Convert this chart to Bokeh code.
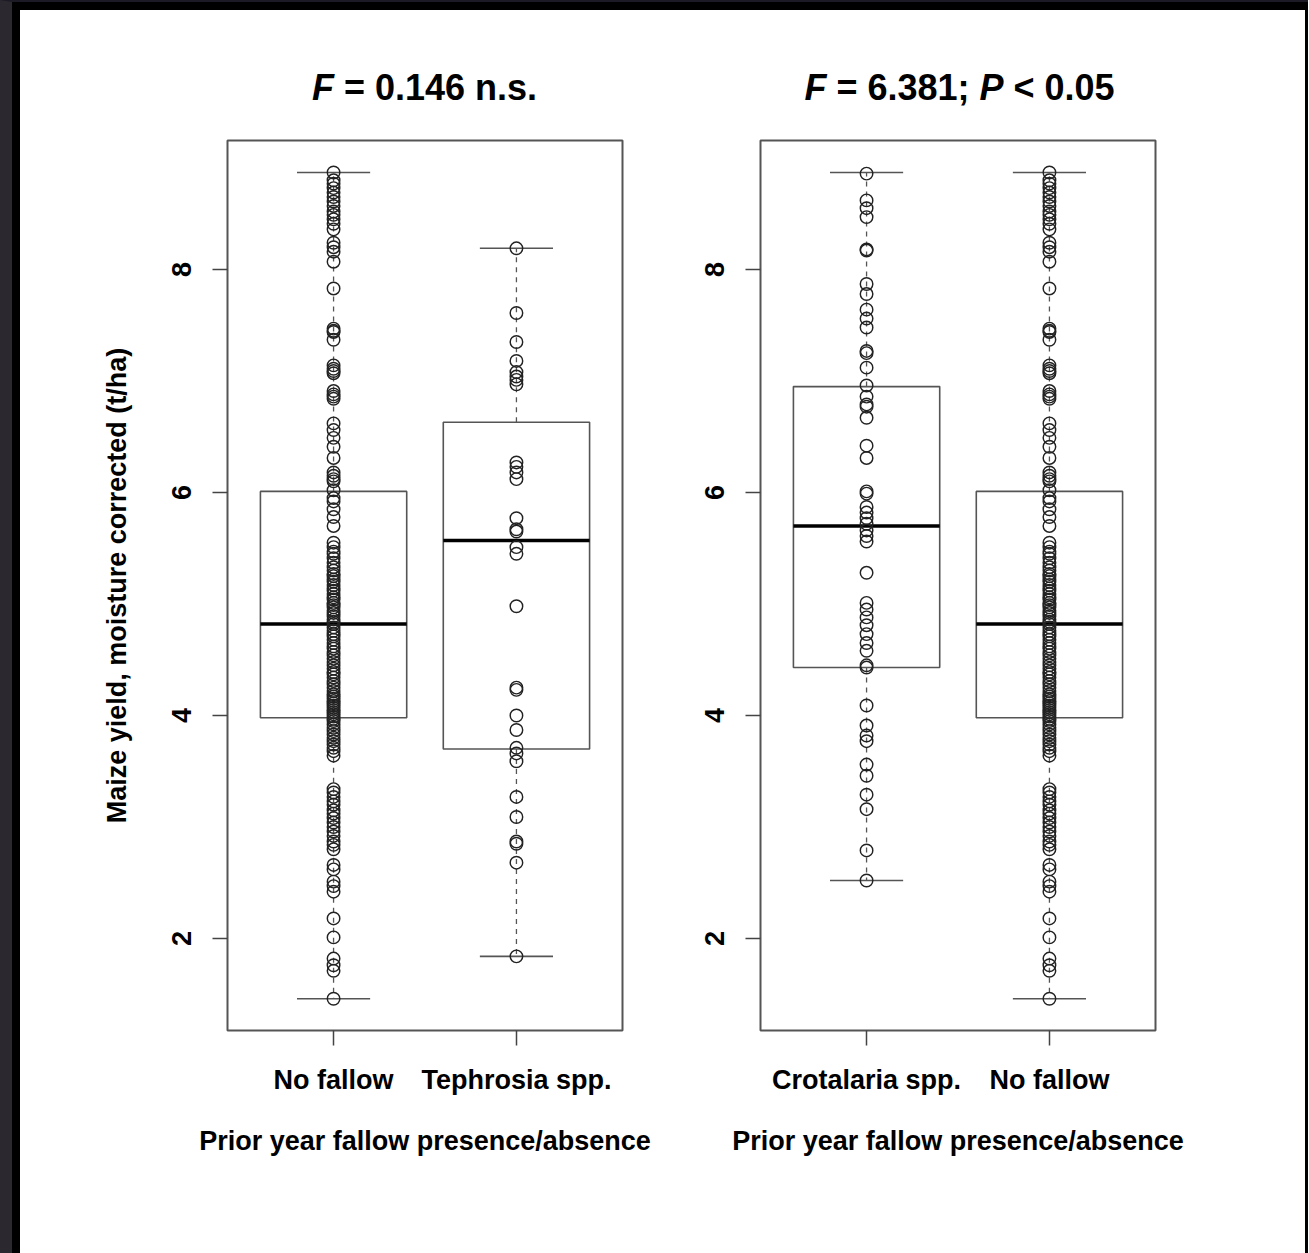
import numpy as np
from bokeh.plotting import figure
from bokeh.models import Range1d, FixedTicker, ColumnDataSource, Div
from bokeh.layouts import row, column
from bokeh.embed import file_html
from bokeh.resources import INLINE

FONT = "Liberation Sans"

# ---------------- data ----------------
left_groups = ["No fallow", "Tephrosia spp."]
right_groups = ["Crotalaria spp.", "No fallow"]

no_fallow = [8.87, 8.80, 8.77, 8.73, 8.69, 8.65, 8.61, 8.57, 8.52, 8.49, 8.45, 8.41, 8.36,
             8.24, 8.20, 8.16, 8.07, 7.83, 7.47, 7.45, 7.44, 7.37, 7.14, 7.11, 7.09, 7.07,
             6.91, 6.88, 6.86, 6.84, 6.62, 6.56, 6.49, 6.41, 6.31, 6.18, 6.15, 6.12, 6.10,
             6.02, 5.95, 5.92, 5.85, 5.78, 5.70, 5.55, 5.51, 5.47, 5.45, 5.41, 5.37, 5.33,
             5.30, 5.27, 5.25, 5.22, 5.20, 5.17, 5.14, 5.12, 5.09, 5.06, 5.04, 5.01, 4.99,
             4.97, 4.94, 4.92, 4.89, 4.86, 4.84, 4.82, 4.79, 4.76, 4.73, 4.71, 4.68, 4.65,
             4.62, 4.60, 4.57, 4.54, 4.51, 4.48, 4.45, 4.42, 4.39, 4.37, 4.34, 4.31, 4.28,
             4.25, 4.22, 4.19, 4.17, 4.15, 4.13, 4.11, 4.09, 4.07, 4.05, 4.03, 4.01, 3.99,
             3.97, 3.95, 3.92, 3.89, 3.86, 3.83, 3.80, 3.77, 3.74, 3.71, 3.68, 3.64, 3.34,
             3.31, 3.27, 3.23, 3.20, 3.15, 3.12, 3.08, 3.04, 3.00, 2.96, 2.92, 2.87, 2.84,
             2.80, 2.66, 2.62, 2.51, 2.47, 2.42, 2.18, 2.01, 1.82, 1.76, 1.71, 1.46]

tephrosia = [8.19, 7.61, 7.35, 7.18, 7.08, 7.04, 7.01, 6.97, 6.27, 6.23, 6.18, 6.12, 5.77,
             5.67, 5.65, 5.51, 5.45, 4.98, 4.25, 4.23, 4.00, 3.87, 3.71, 3.66, 3.59, 3.27,
             3.09, 2.87, 2.85, 2.68, 1.84]

crotalaria = [8.86, 8.62, 8.55, 8.47, 8.18, 8.17, 7.87, 7.78, 7.64, 7.56, 7.48, 7.27, 7.25,
              7.12, 6.96, 6.86, 6.79, 6.77, 6.67, 6.42, 6.31, 6.01, 5.99, 5.87, 5.82, 5.77,
              5.72, 5.66, 5.61, 5.56, 5.28, 5.01, 4.95, 4.88, 4.81, 4.73, 4.65, 4.58, 4.45,
              4.43, 4.09, 3.91, 3.82, 3.77, 3.56, 3.46, 3.29, 3.16, 2.79, 2.52]

left_q1 = [3.98, 3.70]
left_med = [4.82, 5.57]
left_q3 = [6.01, 6.63]
left_lo = [1.46, 1.84]
left_hi = [8.87, 8.19]

right_q1 = [4.43, 3.98]
right_med = [5.70, 4.82]
right_q3 = [6.95, 6.01]
right_lo = [2.52, 1.46]
right_hi = [8.87, 8.87]

y_ticks = [2, 4, 6, 8]
y_label = "Maize yield, moisture corrected (t/ha)"
x_label = "Prior year fallow presence/absence"
left_title = "<i>F</i> = 0.146 n.s."
right_title = "<i>F</i> = 6.381; <i>P</i> &lt; 0.05"

TITLE_H = 100
FIG_H = 1143
TOP = 30
FRAME_H = 890
FRAME_W = 395


def panel(groups, series, q1, med, q3, lo, hi, width, bl, br, ylab):
    p = figure(width=width, height=FIG_H, output_backend="svg", toolbar_location=None,
               x_range=Range1d(0.42, 2.58), y_range=Range1d(1.175, 9.157),
               min_border_left=bl, min_border_right=br,
               min_border_top=TOP, min_border_bottom=FIG_H - TOP - FRAME_H)
    p.grid.visible = False
    p.outline_line_color = "#555555"
    p.outline_line_width = 2
    p.background_fill_color = "white"
    p.border_fill_color = "white"

    pos = np.array([1.0, 2.0])
    src = ColumnDataSource(dict(x=pos, q1=q1, med=med, q3=q3, lo=lo, hi=hi,
                                cl=pos - 0.2, cr=pos + 0.2, bl=pos - 0.4, br=pos + 0.4))
    p.segment(x0="x", y0="q3", x1="x", y1="hi", source=src, line_color="#555555",
              line_width=1.3, line_dash="5 5")
    p.segment(x0="x", y0="q1", x1="x", y1="lo", source=src, line_color="#555555",
              line_width=1.3, line_dash="5 5")
    p.segment(x0="cl", y0="hi", x1="cr", y1="hi", source=src, line_color="#555555", line_width=1.6)
    p.segment(x0="cl", y0="lo", x1="cr", y1="lo", source=src, line_color="#555555", line_width=1.6)
    p.quad(left="bl", right="br", bottom="q1", top="q3", source=src, fill_color="white",
           line_color="#555555", line_width=1.6)
    p.segment(x0="bl", y0="med", x1="br", y1="med", source=src, line_color="black", line_width=3.5)

    for i, vals in enumerate(series):
        p.scatter(x=[pos[i]] * len(vals), y=vals, marker="circle", size=12.5,
                  fill_alpha=0, line_color="#222222", line_width=1.45)

    # axes
    p.xaxis.ticker = FixedTicker(ticks=[1, 2])
    p.xaxis.major_label_overrides = {1: groups[0], 2: groups[1]}
    p.yaxis.ticker = FixedTicker(ticks=y_ticks)
    for ax in (p.xaxis[0], p.yaxis[0]):
        ax.axis_line_color = None
        ax.major_tick_out = 15
        ax.major_tick_in = 0
        ax.major_tick_line_color = "#444444"
        ax.major_tick_line_width = 1.5
        ax.minor_tick_line_color = None
        ax.major_label_text_font = FONT
        ax.major_label_text_font_style = "bold"
        ax.major_label_text_font_size = "27px"
        ax.major_label_text_color = "black"
        ax.axis_label_text_font = FONT
        ax.axis_label_text_font_style = "bold"
        ax.axis_label_text_font_size = "27px"
        ax.axis_label_text_color = "black"
    p.yaxis.major_label_orientation = "vertical"
    p.yaxis.major_label_standoff = 21
    p.xaxis.major_label_standoff = 19
    p.xaxis.axis_label = x_label
    p.xaxis.axis_label_standoff = 28
    if ylab:
        p.yaxis.axis_label = ylab
        p.yaxis.axis_label_standoff = 38
    return p


def title_div(html, width, bl):
    return Div(width=width, height=TITLE_H, margin=0,
               text=(f'<div style="width:{FRAME_W}px;margin-left:{bl}px;padding-top:57px;'
                     f'text-align:center;font-family:\'{FONT}\';font-weight:bold;'
                     f'font-size:36px;line-height:41px;color:#000;white-space:nowrap">'
                     f'{html}</div>'),
               styles={"background-color": "white"})


LW, LBL, LBR = 640, 207, 38
RW, RBL, RBR = 645, 100, 150

p1 = panel(left_groups, [no_fallow, tephrosia], left_q1, left_med, left_q3, left_lo, left_hi,
           LW, LBL, LBR, y_label)
p2 = panel(right_groups, [crotalaria, no_fallow], right_q1, right_med, right_q3, right_lo, right_hi,
           RW, RBL, RBR, None)

titles = row(title_div(left_title, LW, LBL), title_div(right_title, RW, RBL + 2),
             styles={"background-color": "white"})
plots = row(p1, p2, styles={"background-color": "white"})

inner = column(titles, plots, styles={"background-color": "white",
                                      "border-left": "8px solid #000",
                                      "border-top": "8px solid #000",
                                      "border-right": "3px solid #000"})
layout = column(inner, styles={"background-color": "white",
                               "border-left": "12px solid #2c2830",
                               "border-top": "2px solid #1c1a24"})

open("out.html", "w").write(file_html(layout, INLINE))
